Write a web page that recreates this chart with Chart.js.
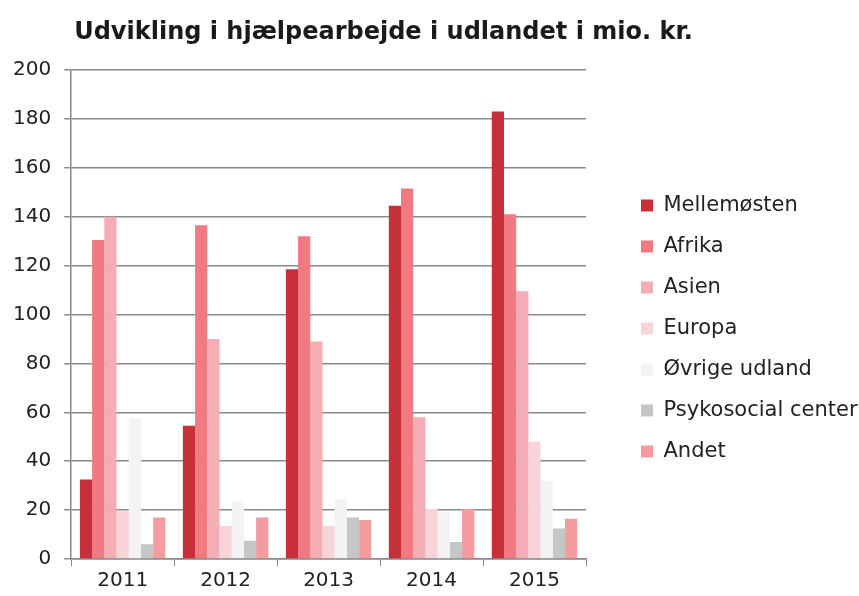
<!DOCTYPE html>
<html>
<head>
<meta charset="utf-8">
<script src="https://cdn.jsdelivr.net/npm/chart.js@4/dist/chart.umd.min.js"></script>
<style>
    html, body { margin: 0; padding: 0; background: #fff; }
    #wrap { width: 859px; height: 596px; }
</style>
</head>
<body>
<div id="wrap"><canvas id="aid-chart" width="859" height="596"></canvas></div>
<script>
    const chartTitle = 'Udvikling i hjælpearbejde i udlandet i mio. kr.';
    const years = ['2011', '2012', '2013', '2014', '2015'];
    const seriesNames = ['Mellemøsten', 'Afrika', 'Asien', 'Europa', 'Øvrige udland', 'Psykosocial center', 'Andet'];
    const mellemosten = [32.5, 54.5, 118.5, 144.5, 183];
    const afrika = [130.5, 136.5, 132, 151.5, 141];
    const asien = [140, 90, 89, 58, 109.5];
    const europa = [19.5, 13.5, 13.5, 20.5, 48];
    const ovrige = [57.5, 23.5, 24.5, 19, 32];
    const psykosocial = [6, 7.5, 17, 7, 12.5];
    const andet = [17, 17, 16, 20.5, 16.5];
    const yTicks = [0, 20, 40, 60, 80, 100, 120, 140, 160, 180, 200];

    const colours = ['#c6303b', '#f07a82', '#f5adb5', '#f8d3d8', '#f4f2f2', '#c6c6c6', '#f39b9e'];
    const values = [mellemosten, afrika, asien, europa, ovrige, psykosocial, andet];

    // title sits a little right of the plot's left edge and is wider than the plot
    const headingPlugin = {
        id: 'heading',
        afterDraw(chart) {
            const c = chart.ctx;
            c.save();
            c.font = 'bold 24px "DejaVu Sans"';
            c.fillStyle = '#1a1a1a';
            c.textBaseline = 'middle';
            c.textAlign = 'left';
            c.fillText(chartTitle, chart.chartArea.left + 3, 33);
            c.restore();
        }
    };

    const ctx = document.getElementById('aid-chart').getContext('2d');

    const chart = new Chart(ctx, {
        type: 'bar',
        data: {
            labels: years,
            datasets: seriesNames.map((name, i) => ({
                label: name,
                data: values[i],
                backgroundColor: colours[i],
                borderWidth: 0,
                barPercentage: 1,
                categoryPercentage: 0.83
            }))
        },
        plugins: [headingPlugin],
        options: {
            responsive: false,
            animation: false,
            layout: { padding: { top: 70, bottom: 0, right: 0, left: 0 } },
            plugins: {
                title: { display: false },
                legend: {
                    position: 'right',
                    align: 'center',
                    fullSize: false,
                    maxWidth: 238,
                    title: { display: true, text: ' ', font: { size: 10 }, padding: 8 },
                    labels: {
                        color: '#222',
                        font: { family: 'DejaVu Sans', size: 21 },
                        boxWidth: 12,
                        boxHeight: 12,
                        padding: 20
                    }
                },
                tooltip: { enabled: false }
            },
            scales: {
                x: {
                    grid: {
                        drawOnChartArea: false,
                        drawTicks: true,
                        tickLength: 7,
                        color: '#888'
                    },
                    border: { color: '#888', width: 1.5 },
                    ticks: {
                        color: '#222',
                        font: { family: 'DejaVu Sans', size: 20 },
                        padding: 3
                    }
                },
                y: {
                    min: 0,
                    max: 200,
                    afterBuildTicks: axis => { axis.ticks = yTicks.map(v => ({ value: v })); },
                    grid: {
                        color: '#8a8a8a',
                        lineWidth: 1.5,
                        tickLength: 7
                    },
                    border: { color: '#888', width: 1.5 },
                    ticks: {
                        color: '#222',
                        font: { family: 'DejaVu Sans', size: 20 },
                        padding: 13
                    }
                },
                // empty axis that keeps a gap between the plot and the legend
                gap: {
                    position: 'right',
                    grid: { display: false },
                    border: { display: false },
                    ticks: { display: false },
                    afterFit: scale => { scale.width = 35; }
                }
            }
        }
    });
</script>
</body>
</html>
